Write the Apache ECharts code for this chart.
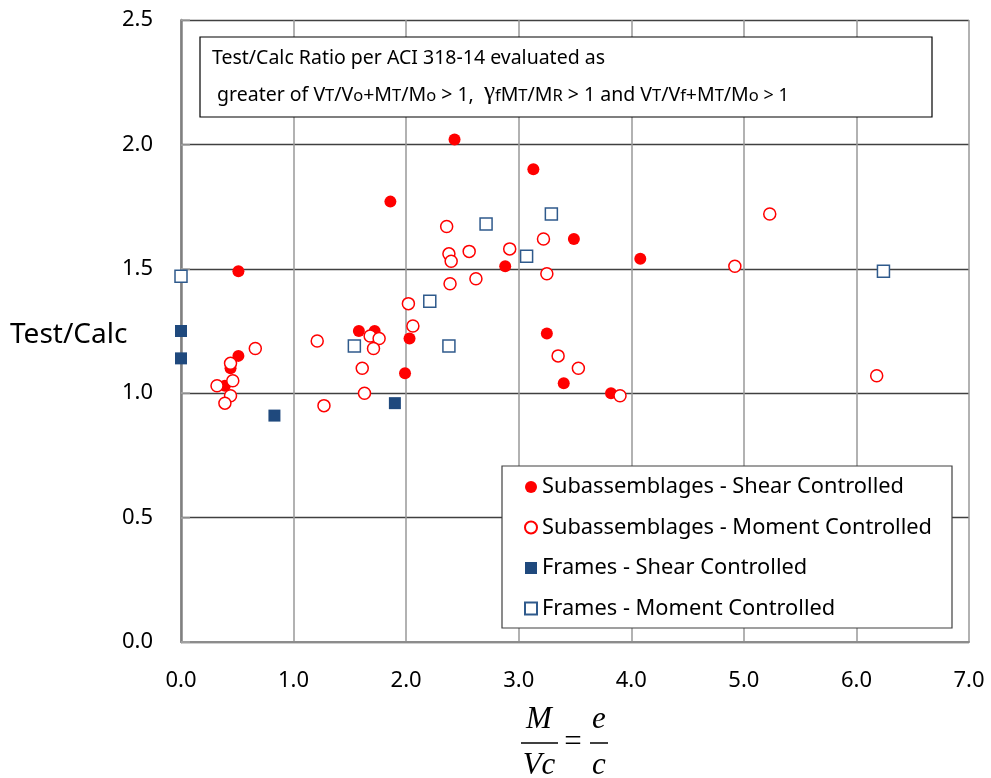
<!DOCTYPE html>
<html>
<head>
<meta charset="utf-8">
<title>Test/Calc vs M/Vc</title>
<script src="https://cdn.jsdelivr.net/npm/echarts@6/dist/echarts.min.js"></script>
<style>
    html, body { margin: 0; padding: 0; background: #fff; }
    #chart { width: 991px; height: 778px; }
</style>
</head>
<body>
<div id="chart"></div>
<script>
// series names
var seriesNames = [
    'Subassemblages - Shear Controlled',
    'Subassemblages - Moment Controlled',
    'Frames - Shear Controlled',
    'Frames - Moment Controlled'
];

// Subassemblages - shear controlled
var subShearX = [2.43, 1.86, 0.51, 1.58, 1.72, 2.03, 0.51, 0.44, 0.39, 1.99, 3.13, 3.49, 4.08, 2.88, 3.25, 3.40, 3.82];
var subShearY = [2.02, 1.77, 1.49, 1.25, 1.25, 1.22, 1.15, 1.10, 1.03, 1.08, 1.90, 1.62, 1.54, 1.51, 1.24, 1.04, 1.00];

// Subassemblages - moment controlled
var subMomentX = [2.36, 2.38, 2.40, 2.56, 2.39, 2.62, 2.02, 2.06, 1.68, 1.76, 1.71, 1.21, 0.66, 1.61, 1.63, 1.27,
    0.44, 0.46, 0.32, 0.44, 0.39, 3.22, 2.92, 3.25, 3.35, 3.53, 3.90, 5.23, 4.92, 6.18];
var subMomentY = [1.67, 1.56, 1.53, 1.57, 1.44, 1.46, 1.36, 1.27, 1.23, 1.22, 1.18, 1.21, 1.18, 1.10, 1.00, 0.95,
    1.12, 1.05, 1.03, 0.99, 0.96, 1.62, 1.58, 1.48, 1.15, 1.10, 0.99, 1.72, 1.51, 1.07];

// Frames - shear controlled
var frameShearX = [0.00, 0.00, 0.83, 1.90];
var frameShearY = [1.25, 1.14, 0.91, 0.96];

// Frames - moment controlled
var frameMomentX = [0.00, 2.21, 1.54, 2.38, 2.71, 3.29, 3.07, 6.24];
var frameMomentY = [1.47, 1.37, 1.19, 1.19, 1.68, 1.72, 1.55, 1.49];

// axis ranges
var xMin = 0, xMax = 7, xStep = 1;
var yMin = 0, yMax = 2.5, yStep = 0.5;

var font = "'Noto Sans', sans-serif";
var mathFont = "italic 31px 'Liberation Serif', serif";

function pairs(xs, ys) {
    var out = [];
    for (var i = 0; i < xs.length; i++) {
        out.push([xs[i], ys[i]]);
    }
    return out;
}

var chart = echarts.init(document.getElementById('chart'));

var option = {
    backgroundColor: '#fff',
    animation: false,
    grid: {
        left: 181,
        right: 22,
        top: 20,
        bottom: 136
    },
    xAxis: {
        type: 'value',
        min: xMin,
        max: xMax,
        interval: xStep,
        axisLine: { lineStyle: { color: '#8c8c8c', width: 2 } },
        axisTick: { show: false },
        axisLabel: {
            color: '#000',
            fontFamily: font,
            fontSize: 22,
            margin: 28,
            formatter: function(v) { return v.toFixed(1); }
        },
        splitLine: { lineStyle: { color: '#999999', width: 1.5 } }
    },
    yAxis: {
        type: 'value',
        min: yMin,
        max: yMax,
        interval: yStep,
        axisLine: { show: true, lineStyle: { color: '#808080', width: 2.5 } },
        axisTick: { show: true, inside: true, length: 9, lineStyle: { color: '#a6a6a6', width: 1.5 } },
        axisLabel: {
            color: '#000',
            fontFamily: font,
            fontSize: 22,
            margin: 28,
            formatter: function(v) { return v.toFixed(1); }
        },
        splitLine: { lineStyle: { color: '#404040', width: 1.3 } }
    },
    legend: {
        orient: 'vertical',
        left: 524,
        top: 475,
        padding: 0,
        itemWidth: 12,
        itemHeight: 12,
        itemGap: 16.5,
        z: 20,
        data: seriesNames,
        textStyle: {
            color: '#000',
            fontFamily: font,
            fontSize: 21.8,
            lineHeight: 24
        }
    },
    series: [
        {
            name: seriesNames[0],
            type: 'scatter',
            symbol: 'circle',
            symbolSize: 12,
            itemStyle: { color: '#ff0000', opacity: 1 },
            data: pairs(subShearX, subShearY)
        },
        {
            name: seriesNames[1],
            type: 'scatter',
            symbol: 'circle',
            symbolSize: 12,
            itemStyle: { color: '#fff', borderColor: '#ff0000', borderWidth: 1.5, opacity: 1 },
            data: pairs(subMomentX, subMomentY)
        },
        {
            name: seriesNames[2],
            type: 'scatter',
            symbol: 'rect',
            symbolSize: 12,
            itemStyle: { color: '#1f497d', opacity: 1 },
            data: pairs(frameShearX, frameShearY)
        },
        {
            name: seriesNames[3],
            type: 'scatter',
            symbol: 'rect',
            symbolSize: 12,
            itemStyle: { color: '#fff', borderColor: '#2f5a8c', borderWidth: 1.5, opacity: 1 },
            data: pairs(frameMomentX, frameMomentY)
        }
    ],
    graphic: {
        elements: [
            // note box
            {
                type: 'rect',
                z: 10,
                shape: { x: 200, y: 37, width: 732, height: 80 },
                style: { fill: '#fff', stroke: '#000', lineWidth: 1.2 }
            },
            {
                type: 'text',
                z: 11,
                x: 212,
                y: 58,
                style: {
                    text: 'Test/Calc Ratio per ACI 318-14 evaluated as',
                    font: "19.5px 'Noto Sans', sans-serif",
                    fill: '#000',
                    verticalAlign: 'middle'
                }
            },
            {
                type: 'text',
                z: 11,
                x: 212,
                y: 92,
                style: {
                    text: '{n| greater of V}{s|T}{n|/V}{s|o}{n|+M}{s|T}{n|/M}{s|o}{n| > 1,  }{g|γ}{s|f}{n|M}{s|T}{n|/M}{s|R}'
                        + '{n| > 1 and V}{s|T}{n|/V}{s|f}{n|+M}{s|T}{n|/M}{s|o}{e| > 1}',
                    fill: '#000',
                    verticalAlign: 'middle',
                    rich: {
                        n: { fontSize: 19.5, fontFamily: font, fill: '#000', lineHeight: 26, verticalAlign: 'bottom' },
                        s: { fontSize: 16.5, fontFamily: font, fill: '#000', lineHeight: 22.5, verticalAlign: 'bottom' },
                        e: { fontSize: 18, fontFamily: font, fill: '#000', lineHeight: 24.5, verticalAlign: 'bottom' },
                        g: { fontSize: 25, fontFamily: "'Liberation Serif', serif", fill: '#000', lineHeight: 24, verticalAlign: 'bottom' }
                    }
                }
            },
            // legend box
            {
                type: 'rect',
                z: 10,
                shape: { x: 502, y: 466, width: 450, height: 162 },
                style: { fill: '#fff', stroke: '#404040', lineWidth: 1.2 }
            },
            // y axis title
            {
                type: 'text',
                x: 10,
                y: 335,
                style: {
                    text: 'Test/Calc',
                    font: "28px 'Noto Sans', sans-serif",
                    fill: '#000',
                    verticalAlign: 'middle'
                }
            },
            // x axis title: M/Vc = e/c
            {
                type: 'text', x: 539, y: 720,
                style: { text: 'M', font: mathFont, fill: '#000', align: 'center', verticalAlign: 'middle' }
            },
            {
                type: 'line',
                shape: { x1: 521, y1: 743, x2: 558, y2: 743 },
                style: { stroke: '#000', lineWidth: 1.5 }
            },
            {
                type: 'text', x: 539, y: 766,
                style: { text: 'Vc', font: mathFont, fill: '#000', align: 'center', verticalAlign: 'middle' }
            },
            {
                type: 'text', x: 573, y: 743,
                style: { text: '=', font: "31px 'Liberation Serif', serif", fill: '#000', align: 'center', verticalAlign: 'middle' }
            },
            {
                type: 'text', x: 599, y: 720,
                style: { text: 'e', font: mathFont, fill: '#000', align: 'center', verticalAlign: 'middle' }
            },
            {
                type: 'line',
                shape: { x1: 590, y1: 743, x2: 608, y2: 743 },
                style: { stroke: '#000', lineWidth: 1.5 }
            },
            {
                type: 'text', x: 599, y: 766,
                style: { text: 'c', font: mathFont, fill: '#000', align: 'center', verticalAlign: 'middle' }
            }
        ]
    }
};

chart.setOption(option);
</script>
</body>
</html>
